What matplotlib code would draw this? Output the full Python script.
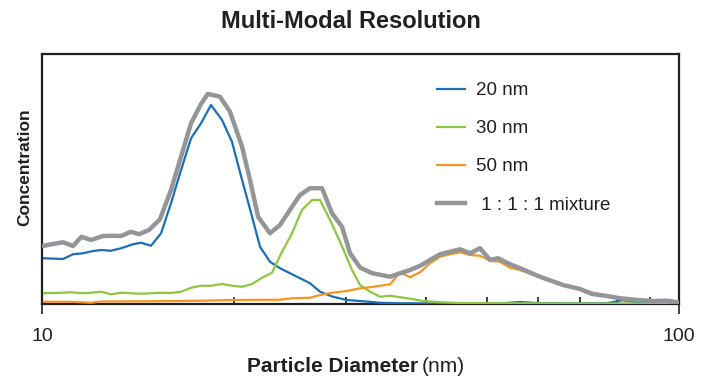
import matplotlib
matplotlib.use('Agg')
import matplotlib.pyplot as plt
from matplotlib.ticker import FixedLocator, NullFormatter, FixedFormatter

plt.rcParams['font.family'] = ['Liberation Sans Narrow', 'Liberation Sans', 'DejaVu Sans']

# particle diameter (nm) and concentration (arb. units, 0-100)
d20 = [10.07, 10.79, 11.19, 11.60, 12.03, 12.38, 12.83, 13.31, 13.89, 14.30, 14.83, 15.38,
       15.94, 16.53, 17.14, 17.77, 18.42, 19.17, 19.87, 20.61, 21.37, 21.99, 22.80, 23.64,
       24.51, 25.41, 26.35, 27.32, 28.63, 30.12, 31.57, 33.94, 36.48, 42.16, 52.36, 56.29,
       60.51, 69.93, 77.09, 81.5, 85.94, 99.29]
c20 = [18.3, 18.0, 19.9, 20.3, 21.2, 21.6, 21.3, 22.3, 23.9, 24.5, 23.3, 28.3,
       40.3, 53.6, 66.3, 72.3, 79.6, 73.6, 64.9, 49.6, 34.9, 22.9, 16.9, 14.3,
       12.3, 10.3, 8.3, 4.9, 2.9, 1.6, 1.2, 0.5, 0.3, 0.2, 0.2, 0.8,
       0.3, 0.2, 0.3, 1.5, 0.8, 0.3]

d30 = [10.07, 10.71, 11.10, 11.60, 11.94, 12.38, 12.83, 13.31, 14.30, 15.38, 15.94, 16.53,
       17.14, 17.77, 18.42, 19.17, 19.87, 20.61, 21.37, 22.15, 22.97, 23.81, 24.69, 25.59,
       26.54, 27.32, 28.33, 29.37, 30.67, 31.57, 32.74, 33.94, 35.19, 36.48, 37.82, 39.65,
       42.16, 45.32, 52.36, 70.0, 99.29]
c30 = [4.3, 4.5, 4.7, 4.3, 4.5, 4.9, 3.9, 4.5, 4.1, 4.5, 4.4, 4.9,
       6.5, 7.3, 7.3, 8.0, 7.3, 6.9, 8.0, 10.5, 12.5, 20.9, 28.3, 37.6,
       41.6, 41.6, 33.6, 24.9, 13.6, 7.6, 4.9, 2.9, 3.3, 2.7, 2.1, 1.2,
       0.7, 0.4, 0.3, 0.2, 0.2]

d50 = [10.07, 11.10, 11.94, 12.38, 14.72, 17.77, 19.87, 23.64, 24.69, 26.35, 27.32, 28.53,
       30.12, 31.57, 32.74, 33.94, 35.19, 36.48, 37.82, 39.22, 40.66, 42.16, 43.71, 45.32,
       46.99, 48.72, 50.51, 52.36, 54.29, 56.29, 60.51, 65.76, 69.93, 73.02, 77.09, 80.83,
       85.94, 91.05, 95.77, 99.29]
c50 = [0.9, 0.9, 0.5, 1.0, 1.1, 1.3, 1.6, 1.7, 2.3, 2.5, 3.6, 4.5,
       5.2, 6.3, 6.7, 7.3, 7.9, 12.7, 10.7, 12.7, 16.3, 18.9, 19.9, 20.7,
       19.6, 19.3, 17.3, 16.9, 14.5, 13.6, 10.7, 7.6, 6.0, 4.6, 3.2, 2.3,
       1.6, 1.2, 1.0, 0.7]

dmix = [10.07, 10.40, 10.79, 11.19, 11.53, 11.94, 12.47, 12.92, 13.31, 13.79, 14.20, 14.72,
        15.32, 15.94, 16.53, 17.14, 17.77, 18.20, 18.70, 19.03, 19.73, 20.61, 21.21, 21.84,
        22.80, 23.64, 24.69, 25.41, 26.35, 27.52, 28.53, 29.58, 30.45, 31.57, 32.98, 35.19,
        36.48, 37.82, 39.22, 40.66, 42.16, 43.71, 45.32, 46.99, 48.72, 50.51, 51.99, 54.29,
        56.29, 60.51, 65.76, 69.93, 73.02, 77.09, 80.83, 85.94, 91.05, 95.77, 99.29]
cmix = [23.3, 24.0, 24.7, 23.2, 26.9, 25.6, 27.2, 27.3, 27.2, 28.9, 27.9, 29.6,
        33.9, 45.6, 58.9, 72.3, 80.0, 84.0, 83.4, 82.9, 76.9, 62.9, 49.6, 34.9,
        28.3, 31.6, 38.9, 43.6, 46.3, 46.3, 36.3, 30.9, 20.3, 14.6, 12.3, 10.9,
        12.3, 13.6, 15.3, 17.6, 19.9, 20.9, 21.9, 20.3, 22.3, 17.6, 18.3, 15.9,
        14.3, 10.9, 7.6, 6.0, 4.0, 3.2, 2.3, 1.6, 1.2, 1.3, 0.7]

labels = ['20 nm', '30 nm', '50 nm', ' 1 : 1 : 1 mixture']
colors = ['#1a6fb8', '#8dc63f', '#f7941d', '#939598']

fig = plt.figure(figsize=(7.01, 3.81), dpi=100)
ax = fig.add_axes([42/701, 1 - 304/381, 637/701, 250/381])

ax.plot(d20, c20, color=colors[0], lw=1.6, label=labels[0], zorder=3)
ax.plot(d30, c30, color=colors[1], lw=1.6, label=labels[1], zorder=3)
ax.plot(d50, c50, color=colors[2], lw=1.6, label=labels[2], zorder=3)
ax.plot(dmix, cmix, color=colors[3], lw=3.2, label=labels[3], zorder=4)

ax.set_xscale('log')
ax.set_xlim(10, 100)
ax.set_ylim(0, 100)
ax.set_yticks([])

ax.xaxis.set_major_locator(FixedLocator([10, 100]))
ax.xaxis.set_major_formatter(FixedFormatter(['10', '100']))
ax.xaxis.set_minor_locator(FixedLocator([20, 30, 40, 50, 60, 70, 80, 90]))
ax.xaxis.set_minor_formatter(NullFormatter())
ax.tick_params(axis='x', which='major', direction='out', length=7, width=1.2,
               color='#231f20', labelsize=14, pad=10, labelcolor='#231f20')
ax.tick_params(axis='x', which='minor', direction='in', length=5, width=1.2,
               color='#231f20')

for s in ax.spines.values():
    s.set_linewidth(1.6)
    s.set_color('#231f20')

ax.legend(loc='upper left', bbox_to_anchor=(437/701, 1 - 82/381),
          bbox_transform=fig.transFigure, frameon=False, fontsize=13.5,
          handlelength=1.5, handletextpad=0.6, labelspacing=1.12,
          borderpad=0, borderaxespad=0, labelcolor='#231f20')

fig.text(351/701, 1 - 21/381, 'Multi-Modal Resolution', ha='center', va='center',
         fontsize=17, fontweight='bold', color='#231f20')
fig.text(25/701, 1 - 167/381, 'Concentration', ha='center', va='center',
         rotation=90, fontsize=12.5, fontweight='bold', color='#231f20')
fig.text(418/701, 1 - 367/381, 'Particle Diameter', ha='right', va='center',
         fontsize=15, fontweight='bold', color='#231f20')
fig.text(422/701, 1 - 367/381, '(nm)', ha='left', va='center',
         fontsize=15, color='#231f20')

fig.savefig('out.png', dpi=100)
